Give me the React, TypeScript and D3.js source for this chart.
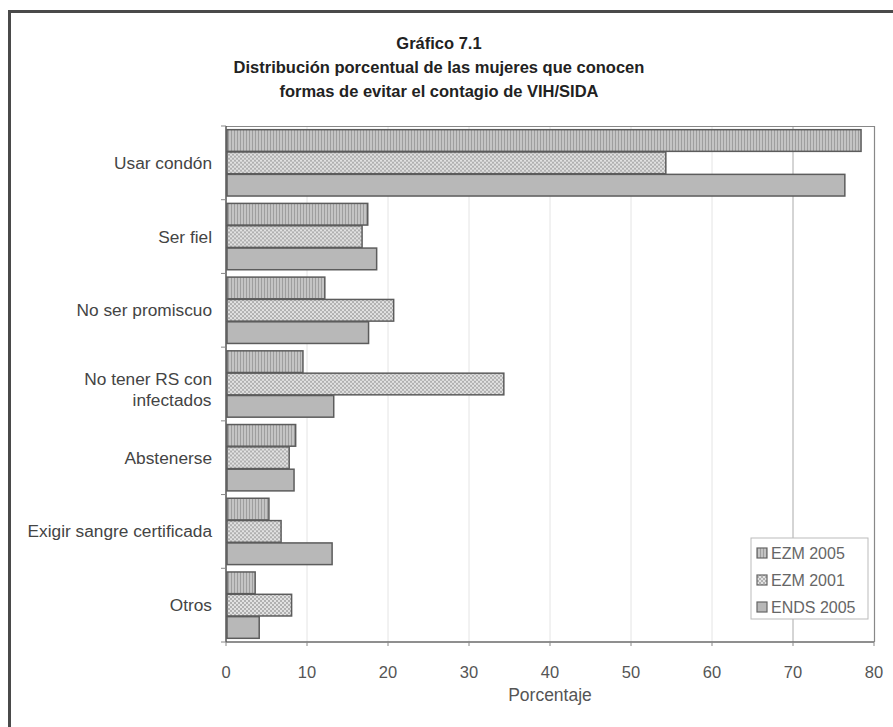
import React from "react";
import * as d3 from "d3";

const categories = [
  "Usar condón",
  "Ser fiel",
  "No ser promiscuo",
  "No tener RS con infectados",
  "Abstenerse",
  "Exigir sangre certificada",
  "Otros",
];
const seriesNames = ["EZM 2005", "EZM 2001", "ENDS 2005"];
const ezm2005 = [78.4, 17.5, 12.2, 9.5, 8.6, 5.3, 3.6];
const ezm2001 = [54.3, 16.8, 20.7, 34.3, 7.8, 6.8, 8.1];
const ends2005 = [76.4, 18.6, 17.6, 13.3, 8.4, 13.1, 4.1];
const xTicks = [0, 10, 20, 30, 40, 50, 60, 70, 80];
const titleLines = [
  "Gráfico 7.1",
  "Distribución porcentual de las mujeres que conocen",
  "formas de evitar el contagio de VIH/SIDA",
];

const seriesValues = [ezm2005, ezm2001, ends2005];
const fills = ["url(#pV)", "url(#pX)", "#b8b8b8"];

export default function App() {
  const W = 893, H = 727;
  const left = 226, right = 874, top = 126, bottom = 642;
  const x = d3.scaleLinear().domain([0, 80]).range([left, right]);
  const y0 = d3.scaleBand<number>().domain(d3.range(categories.length)).range([top, bottom]).paddingInner(0.1).paddingOuter(0.05);
  const y1 = d3.scaleBand<number>().domain([0, 1, 2]).range([0, y0.bandwidth()]).paddingInner(0.03);
  const font = "'Liberation Sans', Arial, sans-serif";

  return (
    <svg width={W} height={H} style={{ position: "absolute", left: 0, top: 0, background: "#fff" }} fontFamily={font}>
      <defs>
        <pattern id="pV" width="3" height="4" patternUnits="userSpaceOnUse">
          <rect width="3" height="4" fill="#c4c4c4" />
          <rect width="1" height="4" fill="#9e9e9e" />
        </pattern>
        <pattern id="pX" width="4" height="4" patternUnits="userSpaceOnUse">
          <rect width="4" height="4" fill="#e2e2e2" />
          <rect x="0" y="0" width="2" height="2" fill="#b0b0b0" />
          <rect x="2" y="2" width="2" height="2" fill="#b0b0b0" />
        </pattern>
      </defs>
      <rect x={0} y={0} width={W} height={H} fill="#fff" />
      {/* outer frame */}
      <path d={`M9.5,${H} V11.5 H${W}`} fill="none" stroke="#4a4a4a" strokeWidth={3} />

      {/* title */}
      {titleLines.map((t, i) => (
        <text key={i} x={439} y={49 + i * 24} textAnchor="middle" fontSize={16.5} fill="#222" fontWeight="bold">
          {t}
        </text>
      ))}

      {/* gridlines */}
      {xTicks.slice(1, -1).map((t) => (
        <line key={t} x1={x(t)} x2={x(t)} y1={top} y2={bottom} stroke={t === 70 ? "#aaa" : "#e4e4e4"} strokeWidth={1} />
      ))}

      {/* plot border */}
      <path d={`M${left},${top + 0.5} H${right + 0.5} V${bottom}`} fill="none" stroke="#888" strokeWidth={1.2} />

      {/* bars */}
      {categories.map((c, ci) => (
        <g key={c} transform={`translate(0,${y0(ci)})`}>
          {seriesValues.map((vals, si) => (
            <rect
              key={si}
              x={x(0) + 1}
              y={y1(si)}
              width={x(vals[ci]) - x(0) - 1}
              height={y1.bandwidth()}
              fill={fills[si]}
              stroke="#5c5c5c"
              strokeWidth={1.5}
            />
          ))}
        </g>
      ))}

      {/* axes */}
      <line x1={left} x2={right} y1={bottom} y2={bottom} stroke="#6a6a6a" strokeWidth={1.5} />
      <line x1={left} x2={left} y1={top} y2={bottom} stroke="#555" strokeWidth={1.5} />
      {d3.range(categories.length + 1).map((i) => (
        <line key={i} x1={left - 5} x2={left} y1={top + i * (bottom - top) / categories.length} y2={top + i * (bottom - top) / categories.length} stroke="#888" strokeWidth={1} />
      ))}
      {xTicks.map((t) => (
        <g key={t}>
          <line x1={x(t)} x2={x(t)} y1={bottom} y2={bottom + 4} stroke="#888" />
          <text x={x(t)} y={678} textAnchor="middle" fontSize={16.5} fill="#555">{t}</text>
        </g>
      ))}
      <text x={x(40)} y={701} textAnchor="middle" fontSize={17.5} fill="#555">Porcentaje</text>

      {/* category labels */}
      {categories.map((c, ci) => {
        const cy = (y0(ci) as number) + y0.bandwidth() / 2;
        if (c === "No tener RS con infectados") {
          return (
            <g key={c}>
              <text x={212} y={cy + 1} textAnchor="end" fontSize={17.3} fill="#444">No tener RS con</text>
              <text x={172} y={cy + 22} textAnchor="middle" fontSize={17.3} fill="#444">infectados</text>
            </g>
          );
        }
        return (
          <text key={c} x={212} y={cy + 6} textAnchor="end" fontSize={17.3} fill="#444">{c}</text>
        );
      })}

      {/* legend */}
      <rect x={751} y={538} width={117} height={81} fill="#fff" stroke="#bbb" strokeWidth={1} />
      {seriesNames.map((s, i) => (
        <g key={s} transform={`translate(757,${553 + i * 27})`}>
          <rect x={0} y={-5} width={10} height={10} fill={fills[i]} stroke="#666" strokeWidth={1.2} />
          <text x={14} y={6} fontSize={16} fill="#666">{s}</text>
        </g>
      ))}
    </svg>
  );
}
